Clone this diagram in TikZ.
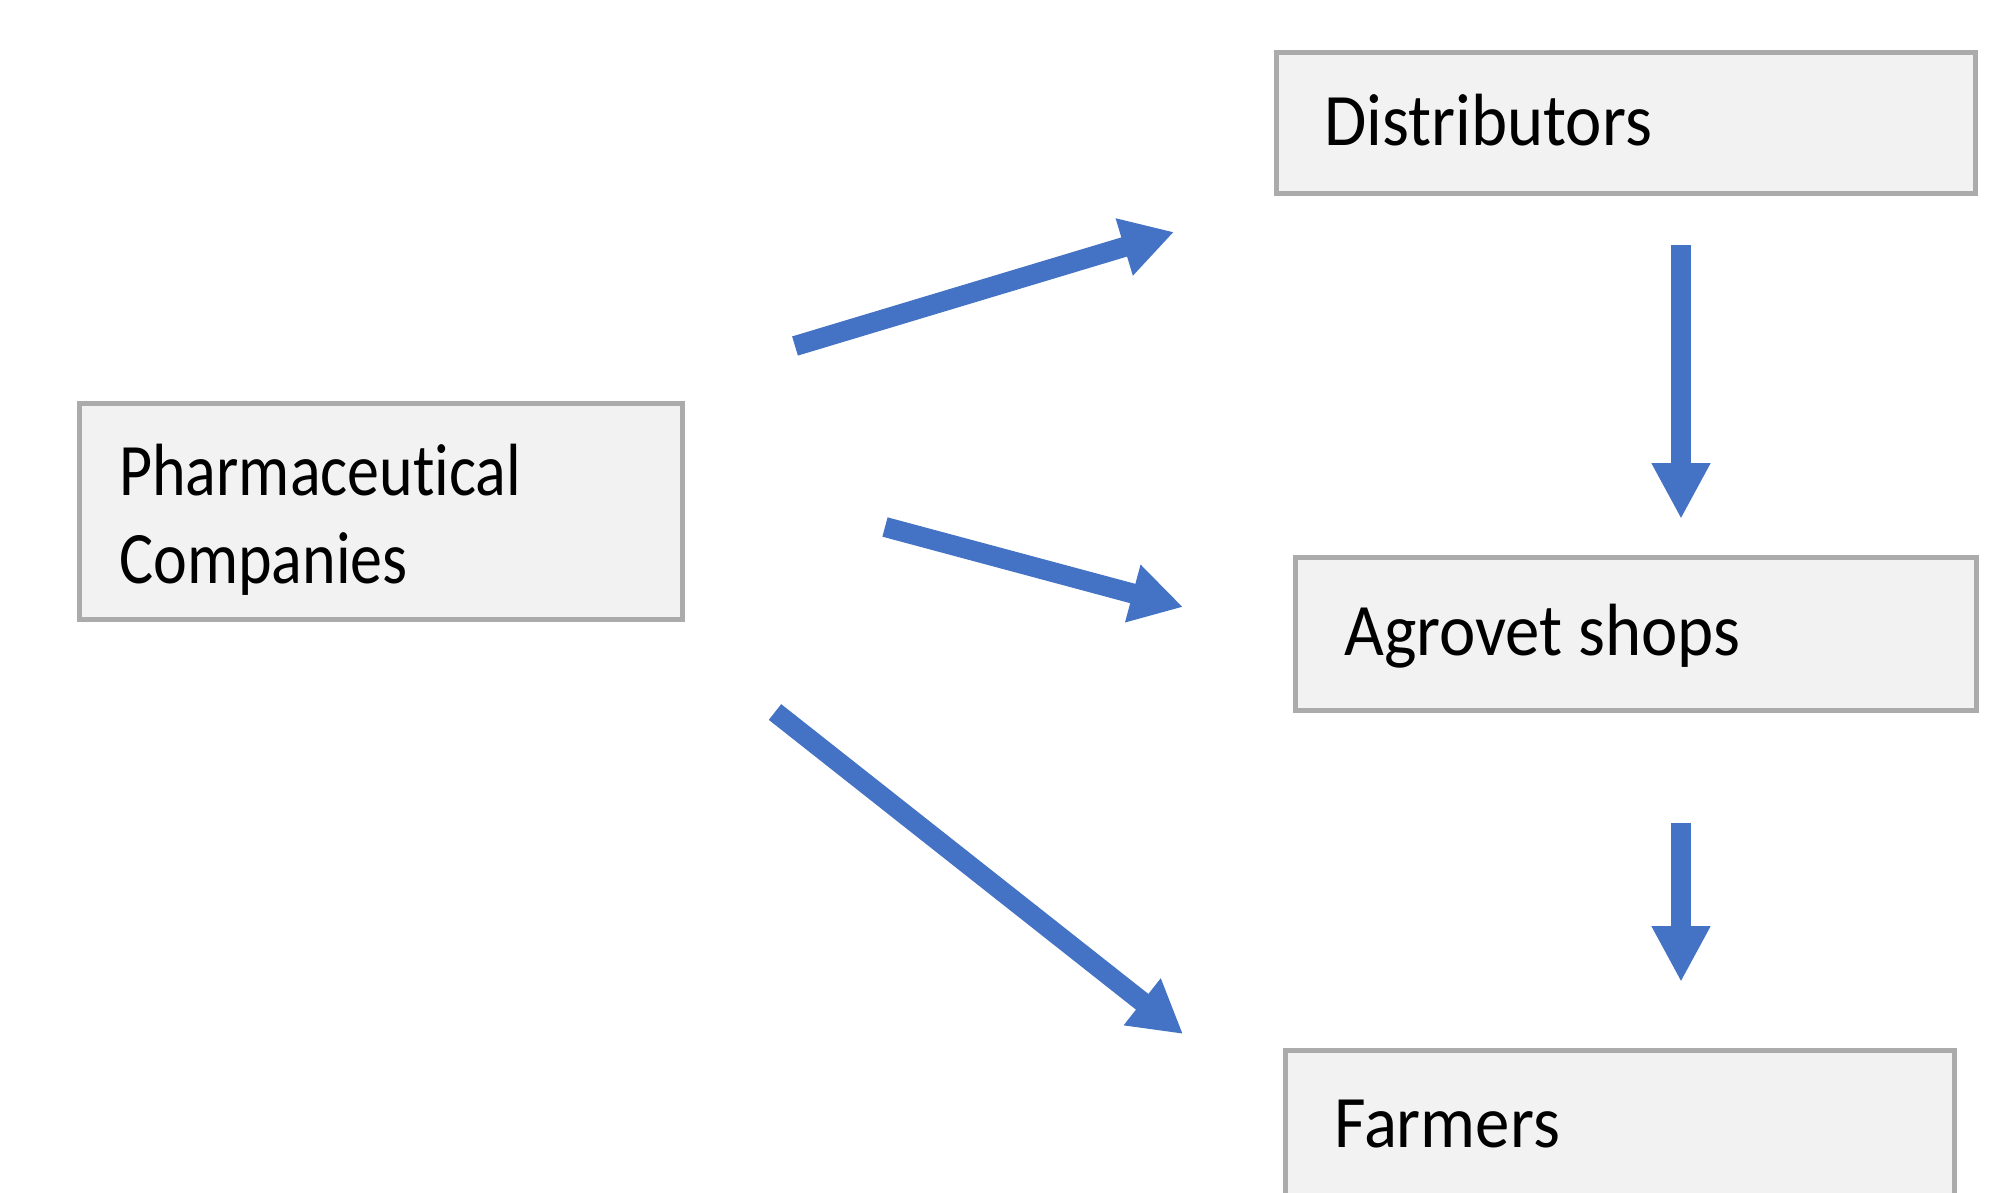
\documentclass[tikz,border=0pt]{standalone}
\usepackage{fontspec}
\usepackage{graphicx}
\setmainfont{Carlito}[Ligatures={NoCommon}]
\usetikzlibrary{arrows.meta}
\definecolor{arrowblue}{HTML}{4472C4}
\definecolor{boxfill}{HTML}{F2F2F2}
\definecolor{boxline}{HTML}{ABABAB}
\newcommand{\narrowtxt}[1]{\scalebox{0.93}[1]{#1}}
\newcommand{\narrowertxt}[1]{\scalebox{0.865}[1]{#1}}
\tikzset{
  boxnode/.style={draw=boxline, line width=5pt, fill=boxfill, rectangle, inner sep=0pt, anchor=north west},
  boxtext/.style={anchor=base west, inner sep=0pt, font=\fontsize{74}{88}\selectfont, text=black},
  flowarrow/.style={draw=arrowblue, line width=20pt, -{Triangle[length=52pt,width=56pt]}},
  vertarrow/.style={draw=arrowblue, line width=20pt, -{Triangle[length=56pt,width=55pt]}}
}
\begin{document}
\begin{tikzpicture}[x=1pt,y=-1pt]
\clip (0,0) rectangle (2014,1192);
\fill[white] (0,0) rectangle (2014,1192);
% boxes
\node[boxnode, minimum width=603pt, minimum height=216pt] (pharma) at (77,401) {};
\node[boxnode, minimum width=699pt, minimum height=141pt] (dist) at (1274,50) {};
\node[boxnode, minimum width=681pt, minimum height=153pt] (agro) at (1293,555) {};
\node[boxnode, minimum width=669pt, minimum height=220pt] (farm) at (1283,1048) {};
% texts
\node[boxtext] (pharmaA) at (119,495) {\narrowertxt{Pharmaceutical}};
\node[boxtext] (pharmaB) at (119,583) {\narrowertxt{Companies}};
\node[boxtext] (distT) at (1324,145) {\narrowtxt{Distributors}};
\node[boxtext] (agroT) at (1344,655) {\narrowtxt{Agrovet shops}};
\node[boxtext] (farmT) at (1334,1147) {\narrowtxt{Farmers}};
% arrow end points
\coordinate (a1s) at (795,346);
\coordinate (a1e) at (1174,232);
\coordinate (a2s) at (885,527);
\coordinate (a2e) at (1183,607);
\coordinate (a3s) at (775,712);
\coordinate (a3e) at (1183,1034);
\coordinate (a4s) at (1681,245);
\coordinate (a4e) at (1681,519);
\coordinate (a5s) at (1681,823);
\coordinate (a5e) at (1681,982);
% arrows
\draw[flowarrow] (a1s) -- (a1e);
\draw[flowarrow] (a2s) -- (a2e);
\draw[flowarrow] (a3s) -- (a3e);
\draw[vertarrow] (a4s) -- (a4e);
\draw[vertarrow] (a5s) -- (a5e);
\end{tikzpicture}
\end{document}
